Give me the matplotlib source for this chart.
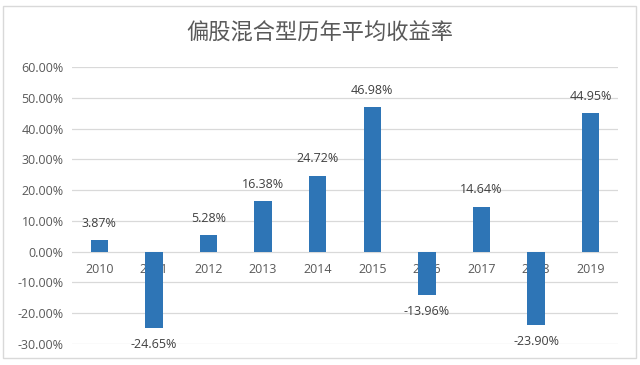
import matplotlib.pyplot as plt
from matplotlib.patches import Rectangle

years = ['2010', '2011', '2012', '2013', '2014', '2015', '2016', '2017', '2018', '2019']
returns = [3.87, -24.65, 5.28, 16.38, 24.72, 46.98, -13.96, 14.64, -23.90, 44.95]
yticks = [-30, -20, -10, 0, 10, 20, 30, 40, 50, 60]

plt.rcParams['font.family'] = ['Open Sans', 'Noto Sans CJK SC', 'DejaVu Sans']

fig = plt.figure(figsize=(6.4, 3.65), dpi=100)
ax = fig.add_axes([72 / 640, 1 - 344 / 365, 546 / 640, 277 / 365])

# outer chart border
fig.patches.append(Rectangle((3 / 640, 7 / 365), 633 / 640, 352 / 365,
                             transform=fig.transFigure, facecolor='none',
                             edgecolor='#d9d9d9', linewidth=1))

x = list(range(len(years)))
ax.bar(x, returns, width=0.32, color='#2e75b6', zorder=3)

ax.set_ylim(-30, 60)
ax.set_xlim(-0.5, len(years) - 0.5)
ax.set_yticks(yticks)
ax.set_yticklabels([f'{v:.2f}%' for v in yticks], fontsize=9, color='#595959')
ax.tick_params(axis='y', length=0, pad=6)
ax.set_xticks([])
ax.grid(axis='y', color='#d9d9d9', linewidth=0.9, zorder=0)
for s in ax.spines.values():
    s.set_visible(False)

# category labels sit just under the zero line
for xi, lab in zip(x, years):
    ax.annotate(lab, (xi, 0), xytext=(0, -13), textcoords='offset points',
                ha='center', va='center', fontsize=9, color='#595959', zorder=2)

# value labels
for xi, v in zip(x, returns):
    off = 12 if v >= 0 else -12
    ax.annotate(f'{v:.2f}%', (xi, v), xytext=(0, off), textcoords='offset points',
                ha='center', va='center', fontsize=9, color='#404040')

fig.text(0.5, 1 - 33 / 365, '偏股混合型历年平均收益率', ha='center', va='center',
         fontsize=16, color='#595959', family=['Noto Sans CJK SC', 'DejaVu Sans'])

fig.savefig('out.png', dpi=100, facecolor='white')
